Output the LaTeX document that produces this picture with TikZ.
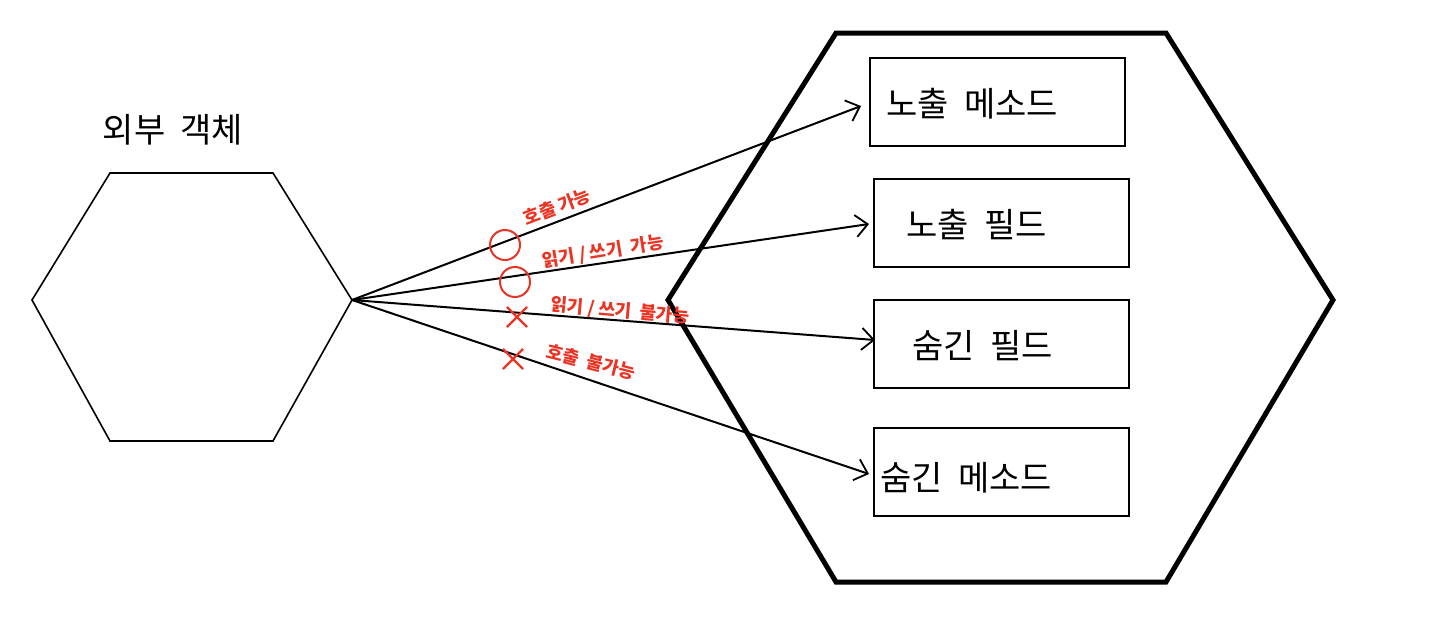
\documentclass[tikz,border=0pt]{standalone}
\usepackage{fontspec}
\setmainfont{Noto Sans CJK KR}
\usetikzlibrary{arrows.meta,shapes.misc}
\definecolor{hand}{RGB}{234,52,36}
\newcommand{\gap}{\hspace{0.45em}}
\tikzset{
  member/.style={draw=black, line width=2pt, minimum width=255pt, minimum height=88pt, inner sep=0pt},
  membertext/.style={font=\fontsize{34}{38}\selectfont, anchor=west, inner sep=0pt},
  link/.style={line width=2pt, -{Straight Barb[length=12pt,width=22pt,line width=1.8pt]}},
  note/.style={text=hand, font=\fontsize{18}{20}\selectfont\bfseries, inner sep=0pt},
  okmark/.style={circle, draw=hand, line width=2pt, minimum size=30pt, inner sep=0pt},
  nomark/.style={cross out, draw=hand, line width=2.2pt, minimum size=18pt, inner sep=0pt},
}
\begin{document}
\begin{tikzpicture}[x=1pt,y=-1pt]
\useasboundingbox (0,0) rectangle (1437,616);
% outer object hexagon
\draw[line width=1.6pt] (32,300) -- (110,173) -- (273,173) -- (352,300) -- (273,441) -- (110,441) -- cycle;
\node[font=\fontsize{34}{38}\selectfont, inner sep=0pt] (ext) at (173,130) {외부\gap 객체};
\coordinate (src) at (352,300);
% object hexagon
\draw[line width=5pt, line join=miter] (668,300) -- (836,33) -- (1166,33) -- (1333,300) -- (1166,582) -- (836,582) -- cycle;
% member boxes
\node[member] (m1) at (997.5,102) {};
\node[member] (m2) at (1001.5,223) {};
\node[member] (m3) at (1001.5,344) {};
\node[member] (m4) at (1001.5,472) {};
\node[membertext] (t1) at (886,104) {노출\gap 메소드};
\node[membertext] (t2) at (906,225) {노출\gap 필드};
\node[membertext] (t3) at (912,346) {숨긴\gap 필드};
\node[membertext] (t4) at (880,478) {숨긴\gap 메소드};
% connectors
\draw[link] (src) -- ([xshift=-8pt,yshift=-4pt]m1.west);
\draw[link] (src) -- ([xshift=-4pt,yshift=-1pt]m2.west);
\draw[link] (src) -- ([xshift=2pt,yshift=4pt]m3.west);
\draw[link] (src) -- ([xshift=-4pt,yshift=-2pt]m4.west);
% annotations
\node[note, rotate=21] (n1) at (557,207) {호출 가능};
\node[note, rotate=9] (n2) at (603,252) {읽기 / 쓰기 \ 가능};
\node[note, rotate=-5] (n3) at (620,311) {읽기 / 쓰기 \ 불가능};
\node[note, rotate=-14] (n4) at (591,362) {호출 \ 불가능};
\node[okmark] (o1) at (505,245) {};
\node[okmark] (o2) at (515,282) {};
\node[nomark] (x1) at (517,317) {};
\node[nomark] (x2) at (513,359) {};
\end{tikzpicture}
\end{document}
